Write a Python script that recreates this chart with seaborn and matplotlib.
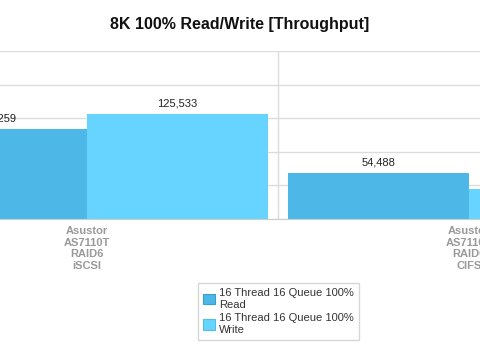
import pandas as pd
import matplotlib.pyplot as plt
import seaborn as sns

# chart values
systems = ['Asustor\nAS7110T\nRAID6\niSCSI', 'Asustor\nAS7110T\nRAID6\nCIFS']
series = ['16 Thread 16 Queue 100%\nRead', '16 Thread 16 Queue 100%\nWrite']
read_vals = [107259, 54488]
write_vals = [125533, 36000]
colors = ['#4db8e8', '#66d4ff']

df = pd.DataFrame({
    'system': systems * 2,
    'series': [series[0]] * len(systems) + [series[1]] * len(systems),
    'value': read_vals + write_vals,
})

sns.set_style('white')
plt.rcParams['font.family'] = ['Liberation Sans', 'DejaVu Sans']

fig = plt.figure(figsize=(4.8, 3.52), dpi=100)
# plot area is wider than the picture (chart is cropped on both sides)
ax = fig.add_axes([-0.2167, 0.3778, 1.5917, 0.4773])

sns.barplot(data=df, x='system', y='value', hue='series', palette=colors,
            width=0.95, saturation=1, linewidth=0, ax=ax)

for cont in ax.containers:
    ax.bar_label(cont, labels=[f'{v.get_height():,.0f}' for v in cont],
                 padding=4, fontsize=8, color='#222222')

ax.set_xlim(-0.5, 1.5)
ax.set_ylim(0, 200000)
ax.set_yticks(range(0, 200001, 40000))
ax.set_yticklabels([])
ax.yaxis.grid(True, color='#dcdcdc', lw=1)
ax.set_xticks([0.5], minor=True)
ax.xaxis.grid(True, which='minor', color='#dcdcdc', lw=1)
ax.set_axisbelow(True)
ax.tick_params(axis='both', which='both', length=0)
ax.tick_params(axis='x', pad=5)
for lab in ax.get_xticklabels():
    lab.set_color('#999999')
    lab.set_fontweight('bold')
    lab.set_fontsize(8)
    lab.set_linespacing(1.2)
ax.set_xlabel('')
ax.set_ylabel('')
for s in ['top', 'left', 'right']:
    ax.spines[s].set_visible(False)
ax.spines['bottom'].set_color('#cccccc')

sns.move_legend(ax, loc='upper left', bbox_to_anchor=(0.413, 0.196),
                bbox_transform=fig.transFigure, title=None, fontsize=8,
                frameon=True, fancybox=False, edgecolor='#cccccc',
                borderpad=0.45, handlelength=1.1, handleheight=1.1,
                handletextpad=0.35, labelspacing=0.35, borderaxespad=0)
leg = ax.get_legend()
for h, c in zip(leg.legend_handles, ['#3a9fd0', '#4fbde6']):
    h.set_edgecolor(c)
    h.set_linewidth(0.8)
for t in leg.get_texts():
    t.set_color('#333333')

fig.text(0.5, 0.929, '8K 100% Read/Write [Throughput]', ha='center', va='center',
         fontsize=11.5, fontweight='bold', color='#111111')

plt.savefig('out.png', dpi=100)
